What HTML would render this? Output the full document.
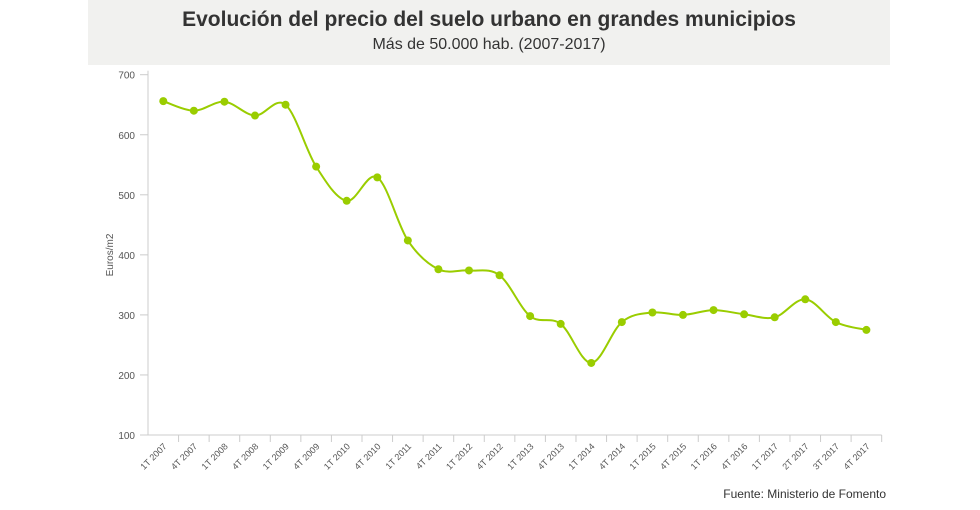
<!DOCTYPE html>
<html><head><meta charset="utf-8"><style>
body{margin:0;background:#fff;width:980px;height:510px;overflow:hidden;font-family:"Liberation Sans",sans-serif}
#banner{position:absolute;left:88px;top:0;width:802px;height:65px;background:#f1f1ef}
#title{position:absolute;left:88px;width:802px;top:8px;text-align:center;font-size:21px;font-weight:bold;color:#333}
#sub{position:absolute;left:88px;width:802px;top:36px;text-align:center;font-size:16px;color:#333}
#src{position:absolute;right:94px;top:487px;font-size:12px;color:#333}
svg{position:absolute;left:0;top:0}
</style></head><body>
<div id="banner"></div>
<div id="title">Evolución del precio del suelo urbano en grandes municipios</div>
<div id="sub">Más de 50.000 hab. (2007-2017)</div>
<div id="src">Fuente: Ministerio de Fomento</div>
<svg id="chart" width="980" height="510"></svg>
<script>
const categories=["1T 2007","4T 2007","1T 2008","4T 2008","1T 2009","4T 2009","1T 2010","4T 2010","1T 2011","4T 2011","1T 2012","4T 2012","1T 2013","4T 2013","1T 2014","4T 2014","1T 2015","4T 2015","1T 2016","4T 2016","1T 2017","2T 2017","3T 2017","4T 2017"];
const values=[656,640,655,632,650,547,490,529,424,376,374,366,298,285,220,288,304,300,308,301,296,326,288,275];
const yTicks=[100,200,300,400,500,600,700];
const NS="http://www.w3.org/2000/svg";
const svg=document.getElementById('chart');
const x0=148,bw=30.57,yTop=74.7,yBot=435;
function x(i){return x0+bw*(i+0.5);}
function y(v){return yBot-(v-100)/600*(yBot-yTop);}
function mk(t,a,p){const e=document.createElementNS(NS,t);for(const k in a)e.setAttribute(k,a[k]);(p||svg).appendChild(e);return e;}
const axis=mk('g',{});


mk('line',{x1:x0,y1:yTop-4,x2:x0,y2:yBot,stroke:'#ccc'},axis);
mk('line',{x1:x0,y1:yBot,x2:x0+bw*categories.length,y2:yBot,stroke:'#ccc'},axis);
yTicks.forEach(v=>{
 mk('line',{x1:x0-8,x2:x0,y1:y(v),y2:y(v),stroke:'#ccc'},axis);
 const t=mk('text',{x:x0-13,y:y(v)+4,'text-anchor':'end','font-size':10,fill:'#555'},axis);
 t.textContent=v;
 
 
});
categories.forEach((c,i)=>{
 mk('line',{x1:x0+bw*(i+1),x2:x0+bw*(i+1),y1:yBot,y2:yBot+7,stroke:'#ccc'},axis);
 const t=mk('text',{x:x(i)+4,y:yBot+12,'text-anchor':'end','font-size':9,fill:'#555',transform:`rotate(-45 ${x(i)+4} ${yBot+12})`},axis);
 t.textContent=c;
 
 
});
const yt=mk('text',{x:113,y:255,'text-anchor':'middle','font-size':10,fill:'#555',transform:'rotate(-90 113 255)'});
yt.textContent='Euros/m2';


// smooth path (monotone-ish catmull-rom)
const pts=values.map((v,i)=>[x(i),y(v)]);
let d=`M${pts[0][0]},${pts[0][1]}`;
for(let i=0;i<pts.length-1;i++){
 const p0=pts[i-1]||pts[i],p1=pts[i],p2=pts[i+1],p3=pts[i+2]||p2;
 const c1=[p1[0]+(p2[0]-p0[0])/6,p1[1]+(p2[1]-p0[1])/6];
 const c2=[p2[0]-(p3[0]-p1[0])/6,p2[1]-(p3[1]-p1[1])/6];
 d+=` C${c1[0]},${c1[1]} ${c2[0]},${c2[1]} ${p2[0]},${p2[1]}`;
}
const line=mk('path',{d:d,fill:'none',stroke:'#9acd00','stroke-width':2});


pts.forEach(p=>{
 const c=mk('circle',{cx:p[0],cy:p[1],r:4,fill:'#9acd00'});
 
 
});
</script>
</body></html>
